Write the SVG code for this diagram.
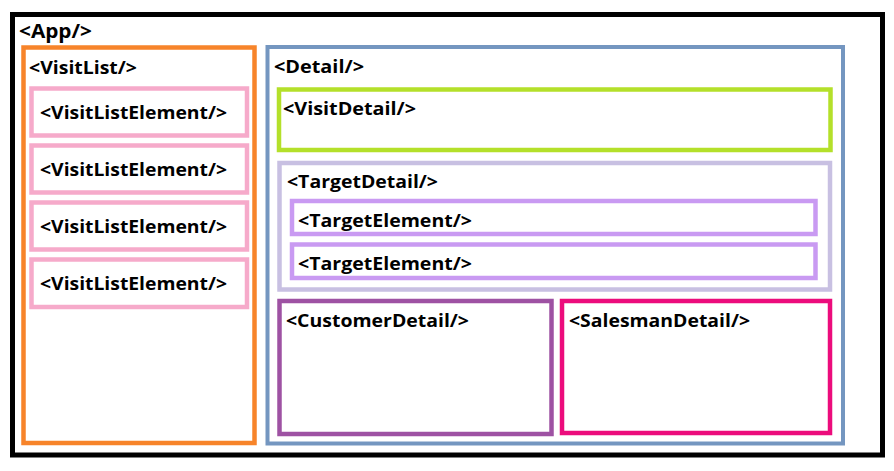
<svg xmlns="http://www.w3.org/2000/svg" width="894" height="471" viewBox="0 0 894 471">
<style>
rect{fill:none}
text{font-family:"Open Sans","Noto Sans","DejaVu Sans",sans-serif;font-weight:bold;font-size:17.5px;fill:#000}
.app{stroke:#000;stroke-width:5}
.vlist{stroke:#f7842a;stroke-width:4.5}
.vle{stroke:#f6aaca;stroke-width:4.5}
.detail{stroke:#7496c0;stroke-width:4}
.vdetail{stroke:#b4e02a;stroke-width:4.5}
.tdetail{stroke:#c8c0e2;stroke-width:4.5}
.telem{stroke:#c99af2;stroke-width:4.5}
.cdetail{stroke:#9e52a3;stroke-width:4.5}
.sdetail{stroke:#ec0c7c;stroke-width:4.5}
</style>
<rect x="0" y="0" width="894" height="471" style="fill:#fff"/>
<g id="App">
<rect class="app" x="12.5" y="14.5" width="870" height="440.5"/>
<text x="19" y="37.5" style="font-size:19.5px" textLength="73" lengthAdjust="spacingAndGlyphs">&lt;App/&gt;</text>
</g>
<g id="VisitList">
<rect class="vlist" x="23.5" y="47.5" width="231" height="395.5"/>
<text x="29" y="73.5" textLength="108" lengthAdjust="spacingAndGlyphs">&lt;VisitList/&gt;</text>
</g>
<g id="VisitListElement1">
<rect class="vle" x="31.5" y="88.5" width="215.5" height="47"/>
<text x="40" y="118.5" textLength="187" lengthAdjust="spacingAndGlyphs">&lt;VisitListElement/&gt;</text>
</g>
<g id="VisitListElement2">
<rect class="vle" x="31.5" y="145.5" width="215.5" height="47"/>
<text x="40" y="176" textLength="187" lengthAdjust="spacingAndGlyphs">&lt;VisitListElement/&gt;</text>
</g>
<g id="VisitListElement3">
<rect class="vle" x="31.5" y="202.5" width="215.5" height="47"/>
<text x="40" y="233" textLength="187" lengthAdjust="spacingAndGlyphs">&lt;VisitListElement/&gt;</text>
</g>
<g id="VisitListElement4">
<rect class="vle" x="31.5" y="259.5" width="215.5" height="47.5"/>
<text x="40" y="290" textLength="187" lengthAdjust="spacingAndGlyphs">&lt;VisitListElement/&gt;</text>
</g>
<g id="Detail">
<rect class="detail" x="267.5" y="47" width="575.5" height="396.5"/>
<text x="274" y="72.5" style="font-size:18.5px" textLength="90" lengthAdjust="spacingAndGlyphs">&lt;Detail/&gt;</text>
</g>
<g id="VisitDetail">
<rect class="vdetail" x="279" y="89.5" width="551.5" height="60.5"/>
<text x="283" y="115" textLength="133" lengthAdjust="spacingAndGlyphs">&lt;VisitDetail/&gt;</text>
</g>
<g id="TargetDetail">
<rect class="tdetail" x="279.5" y="163" width="550.5" height="126.5"/>
<text x="287" y="187.5" textLength="151" lengthAdjust="spacingAndGlyphs">&lt;TargetDetail/&gt;</text>
</g>
<g id="TargetElement1">
<rect class="telem" x="292" y="201" width="523.5" height="33"/>
<text x="298" y="226.5" textLength="174" lengthAdjust="spacingAndGlyphs">&lt;TargetElement/&gt;</text>
</g>
<g id="TargetElement2">
<rect class="telem" x="292" y="244.5" width="523.5" height="33.5"/>
<text x="298" y="270" textLength="174" lengthAdjust="spacingAndGlyphs">&lt;TargetElement/&gt;</text>
</g>
<g id="CustomerDetail">
<rect class="cdetail" x="279.5" y="301" width="272" height="133"/>
<text x="286" y="327" textLength="183" lengthAdjust="spacingAndGlyphs">&lt;CustomerDetail/&gt;</text>
</g>
<g id="SalesmanDetail">
<rect class="sdetail" x="562" y="301" width="268" height="132"/>
<text x="569" y="327" textLength="181" lengthAdjust="spacingAndGlyphs">&lt;SalesmanDetail/&gt;</text>
</g>
<g id="connectors"/>
</svg>
